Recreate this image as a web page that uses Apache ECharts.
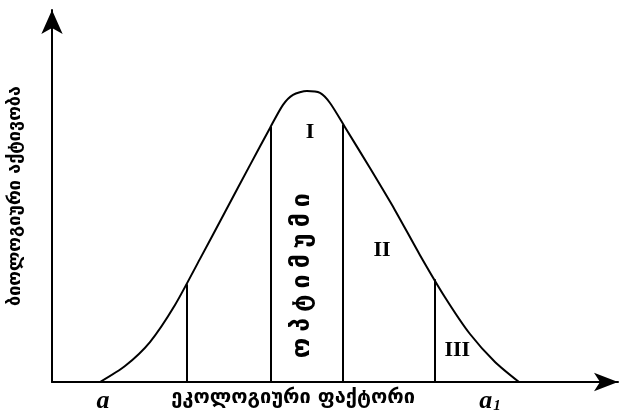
<!DOCTYPE html>
<html>
<head>
<meta charset="utf-8">
<script src="https://cdn.jsdelivr.net/npm/echarts@6/dist/echarts.min.js"></script>
<style>
  html, body { margin: 0; padding: 0; background: #fff; }
  #chart { width: 620px; height: 415px; }
</style>
</head>
<body>
<div id="chart"></div>
<script>
// bell curve points, axis units 0..100
const curveX = [8.48, 12.9, 17.31, 21.73, 26.15, 30.57, 34.98, 38.52, 40.81, 42.58, 45.05, 47.35, 49.12, 51.77, 56.18, 60.6, 65.02, 69.43, 73.85, 78.27, 82.51]
const curveY = [0, 4.3, 10.75, 20.7, 33.1, 45.7, 58.3, 68.3, 74.5, 77.2, 78.2, 77.7, 75.0, 68.5, 57.5, 46.2, 34.1, 22.8, 12.9, 5.4, 0]

// zone borders (vertical lines)
const borderX = [23.85, 38.69, 51.41, 67.67]
const borderTop = [26.3, 68.6, 69.2, 27.6]

// zone captions
const zoneNames = ['I', 'II', 'III']
const zoneX = [45.6, 58.3, 71.6]
const zoneY = [67.2, 35.5, 8.6]
const optimumText = 'ოპტიმუმი'
const optimumPos = [44.3, 28.6]

// x axis labels
const xLabelValues = [9.0, 42.6, 77.4]
const xLabelTexts = ['{i|a}', 'ეკოლოგიური ფაქტორი', '{i|a}{s|1}']
const yName = 'ბიოლოგიური აქტივობა'

const curve = curveX.map((x, i) => [x, curveY[i]])

const option = {
  animation: false,
  grid: {
    left: 52,
    right: 2,
    top: 10,
    bottom: 33,
    outerBoundsMode: 'none',
    containLabel: false
  },
  xAxis: {
    type: 'value',
    min: 0,
    max: 100,
    splitLine: { show: false },
    axisTick: { show: false },
    axisLine: {
      symbol: ['none', 'arrow'],
      symbolSize: [14, 24],
      lineStyle: { color: '#000', width: 2 }
    },
    axisLabel: {
      customValues: xLabelValues,
      margin: 6,
      color: '#000',
      fontFamily: 'DejaVu Sans',
      fontWeight: 'bold',
      fontSize: 20,
      formatter: (v) => xLabelTexts[xLabelValues.indexOf(v)],
      rich: {
        i: { fontFamily: 'Liberation Serif', fontStyle: 'italic', fontWeight: 'bold', fontSize: 26, color: '#000' },
        s: { fontFamily: 'Liberation Serif', fontStyle: 'italic', fontWeight: 'bold', fontSize: 15, color: '#000', verticalAlign: 'bottom', padding: [10, 0, 0, 1] }
      }
    }
  },
  yAxis: {
    type: 'value',
    min: 0,
    max: 100,
    splitLine: { show: false },
    axisTick: { show: false },
    axisLabel: { show: false },
    axisLine: {
      symbol: ['none', 'arrow'],
      symbolSize: [16, 24],
      lineStyle: { color: '#000', width: 2 }
    },
    name: yName,
    nameLocation: 'middle',
    nameRotate: 90,
    nameGap: 28,
    nameTextStyle: { color: '#000', fontFamily: 'DejaVu Sans', fontWeight: 'bold', fontSize: 18 }
  },
  series: [
    {
      type: 'line',
      data: curve,
      smooth: 0.25,
      showSymbol: false,
      lineStyle: { color: '#000', width: 2 },
      markLine: {
        silent: true,
        symbol: 'none',
        label: { show: false },
        lineStyle: { color: '#000', width: 2, type: 'solid' },
        data: borderX.map((x, i) => [{ coord: [x, 0] }, { coord: [x, borderTop[i]] }])
      }
    },
    {
      type: 'scatter',
      symbolSize: 0,
      itemStyle: { opacity: 1 },
      data: zoneNames.map((n, i) => ({ value: [zoneX[i], zoneY[i]], name: n })),
      label: {
        show: true,
        position: 'inside',
        formatter: '{b}',
        color: '#000',
        opacity: 1,
        fontFamily: 'Liberation Serif',
        fontWeight: 'bold',
        fontSize: 22
      }
    },
    {
      type: 'scatter',
      symbolSize: 0,
      itemStyle: { opacity: 1 },
      data: [{ value: optimumPos, name: optimumText }],
      label: {
        show: true,
        position: 'inside',
        rotate: 90,
        opacity: 1,
        // spread the letters a bit like in the picture
        formatter: (p) => p.name.split('').map((c) => '{c|' + c + '}').join(''),
        rich: {
          c: { color: '#000', fontFamily: 'DejaVu Sans', fontWeight: 'bold', fontSize: 25, padding: [0, 3] }
        }
      }
    }
  ]
}

const myChart = echarts.init(document.getElementById('chart'))
myChart.setOption(option)
</script>
</body>
</html>
